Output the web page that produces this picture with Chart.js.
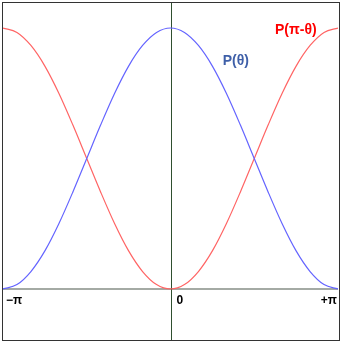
<!DOCTYPE html>
<html>
<head>
<meta charset="utf-8">
<script src="https://cdn.jsdelivr.net/npm/chart.js@4/dist/chart.umd.min.js"></script>
<style>
  html, body { margin: 0; padding: 0; background: #fff; }
  #wrap { width: 342px; height: 343px; }
</style>
</head>
<body>
<div id="wrap"><canvas id="myChart" width="342" height="343"></canvas></div>
<script>
// theta in steps of pi/12, from -pi to +pi
const thetas = [
  -3.1416, -2.8798, -2.618, -2.3562, -2.0944, -1.8326, -1.5708, -1.309, -1.0472, -0.7854, -0.5236, -0.2618,
  0,
  0.2618, 0.5236, 0.7854, 1.0472, 1.309, 1.5708, 1.8326, 2.0944, 2.3562, 2.618, 2.8798, 3.1416
];
const pTheta = [
  0, 0.017, 0.067, 0.146, 0.25, 0.371, 0.5, 0.629, 0.75, 0.854, 0.933, 0.983,
  1,
  0.983, 0.933, 0.854, 0.75, 0.629, 0.5, 0.371, 0.25, 0.146, 0.067, 0.017, 0
];
const pPiMinusTheta = [
  1, 0.983, 0.933, 0.854, 0.75, 0.629, 0.5, 0.371, 0.25, 0.146, 0.067, 0.017,
  0,
  0.017, 0.067, 0.146, 0.25, 0.371, 0.5, 0.629, 0.75, 0.854, 0.933, 0.983, 1
];
const tickLabels = ["\u2212\u03c0", "0", "+\u03c0"];
const tickValues = [-3.1416, 0, 3.1416];
const seriesNames = ["P(\u03b8)", "P(\u03c0-\u03b8)"];

const toPoints = (ys) => thetas.map((t, i) => ({ x: t, y: ys[i] }));

const decorations = {
  id: "decorations",
  beforeDatasetsDraw(chart) {
    const { ctx, chartArea, scales } = chart;
    const x = scales.x, y = scales.y;
    ctx.save();
    // baseline
    ctx.strokeStyle = "#a4aaa4";
    ctx.lineWidth = 2;
    ctx.beginPath();
    ctx.moveTo(chartArea.left, Math.round(y.getPixelForValue(0)));
    ctx.lineTo(chartArea.right, Math.round(y.getPixelForValue(0)));
    ctx.stroke();
    // vertical axis
    ctx.strokeStyle = "#2f4f2f";
    ctx.lineWidth = 1;
    const x0 = Math.round(x.getPixelForValue(0)) + 0.5;
    ctx.beginPath();
    ctx.moveTo(x0, chartArea.top);
    ctx.lineTo(x0, chartArea.bottom);
    ctx.stroke();
    ctx.restore();
  },
  afterDatasetsDraw(chart) {
    const { ctx, scales } = chart;
    const x = scales.x, y = scales.y;
    ctx.save();
    // frame
    ctx.strokeStyle = "#333";
    ctx.lineWidth = 1;
    ctx.strokeRect(2.5, 2.5, 337, 338);
    // tick labels
    ctx.font = "bold 12px 'Liberation Sans', Arial, sans-serif";
    ctx.fillStyle = "#000";
    ctx.textBaseline = "top";
    const ty = y.getPixelForValue(0) + 6;
    ctx.textAlign = "left";
    ctx.fillText(tickLabels[0], x.getPixelForValue(tickValues[0]) + 3, ty);
    ctx.fillText(tickLabels[1], x.getPixelForValue(tickValues[1]) + 6, ty);
    ctx.textAlign = "right";
    ctx.fillText(tickLabels[2], x.getPixelForValue(tickValues[2]) - 1, ty);
    // series labels
    ctx.font = "bold 14px 'Liberation Sans', Arial, sans-serif";
    ctx.textAlign = "left";
    ctx.fillStyle = "#3e5fa8";
    ctx.fillText(seriesNames[0], x.getPixelForValue(0.98), y.getPixelForValue(0.898));
    ctx.fillStyle = "#ff0000";
    ctx.fillText(seriesNames[1], x.getPixelForValue(1.96), y.getPixelForValue(1.018));
    ctx.restore();
  }
};

new Chart(document.getElementById("myChart"), {
  type: "line",
  data: {
    datasets: [
      { label: seriesNames[0], data: toPoints(pTheta), borderColor: "#6464ff", borderWidth: 1.2,
        pointRadius: 0, cubicInterpolationMode: "monotone", fill: false },
      { label: seriesNames[1], data: toPoints(pPiMinusTheta), borderColor: "#ff6464", borderWidth: 1.2,
        pointRadius: 0, cubicInterpolationMode: "monotone", fill: false }
    ]
  },
  options: {
    responsive: false,
    animation: false,
    layout: { padding: { left: 3, right: 4, top: 3, bottom: 3 } },
    plugins: { legend: { display: false }, tooltip: { enabled: false } },
    scales: {
      x: { type: "linear", min: -3.1416, max: 3.1416, display: false },
      y: { min: -0.1954, max: 1.0958, display: false }
    }
  },
  plugins: [decorations]
});
</script>
</body>
</html>
